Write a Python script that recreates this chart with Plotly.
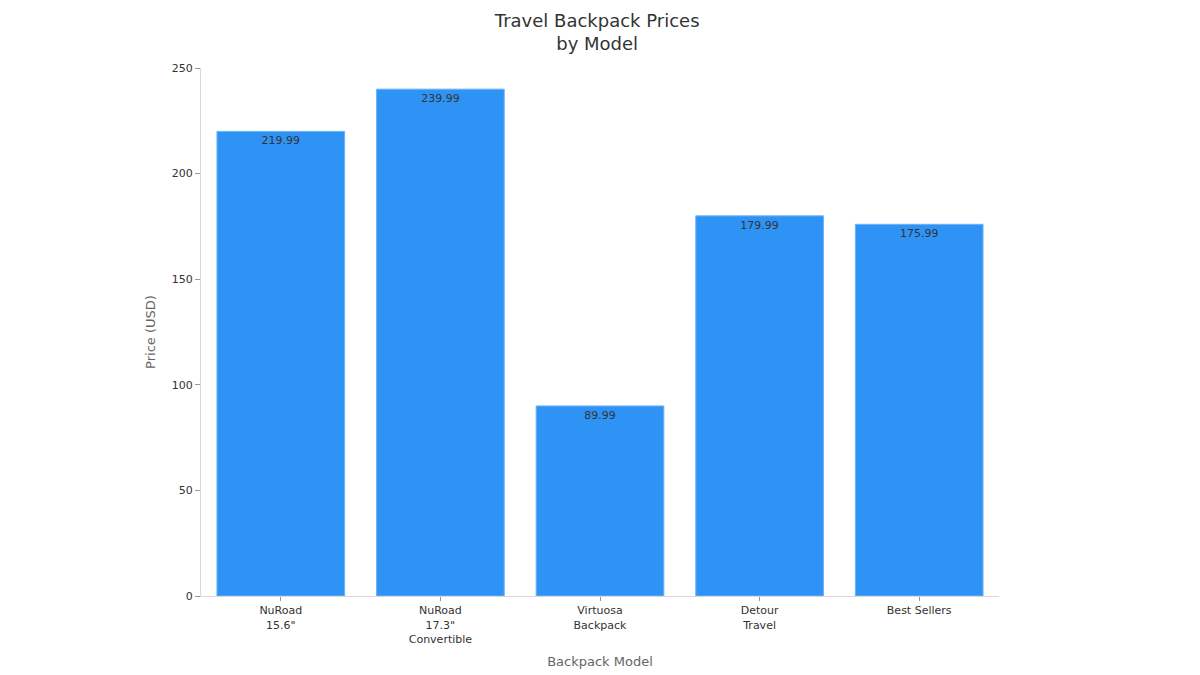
import plotly.graph_objects as go

models = ["NuRoad<br>15.6\"", "NuRoad<br>17.3\"<br>Convertible", "Virtuosa<br>Backpack",
          "Detour<br>Travel", "Best Sellers"]
prices = [219.99, 239.99, 89.99, 179.99, 175.99]
price_labels = ["219.99", "239.99", "89.99", "179.99", "175.99"]

fig = go.Figure()
fig.add_trace(go.Bar(
    x=models, y=prices,
    text=price_labels, textposition="inside", insidetextanchor="end",
    textfont=dict(color="#333333", size=11),
    marker=dict(color="#2f93f5", line=dict(color="#6ab4f8", width=1)),
    width=0.8,
))

fig.update_layout(
    width=1200, height=675,
    font=dict(family="DejaVu Sans", color="#333333"),
    title=dict(text="Travel Backpack Prices<br>by Model", x=0.491, xanchor="center",
               y=0.972, yanchor="top", font=dict(size=18, color="#333333")),
    plot_bgcolor="white", paper_bgcolor="white",
    margin=dict(l=193, r=209, t=60, b=87),
    showlegend=False,
    bargap=0.2,
)
fig.update_xaxes(
    title=dict(text="Backpack Model", font=dict(size=13, color="#666666"), standoff=12),
    showline=True, linecolor="#d9d9d9", ticks="outside", tickcolor="#999999", ticklen=4,
    tickfont=dict(size=11, color="#333333"), showgrid=False,
)
fig.update_yaxes(
    title=dict(text="Price (USD)", font=dict(size=13, color="#666666"), standoff=13),
    range=[0, 250], dtick=50,
    showline=True, linecolor="#d9d9d9", ticks="outside", tickcolor="#999999", ticklen=5,
    tickfont=dict(size=11, color="#333333"), showgrid=False, zeroline=False,
)

fig.write_html("out.html")
